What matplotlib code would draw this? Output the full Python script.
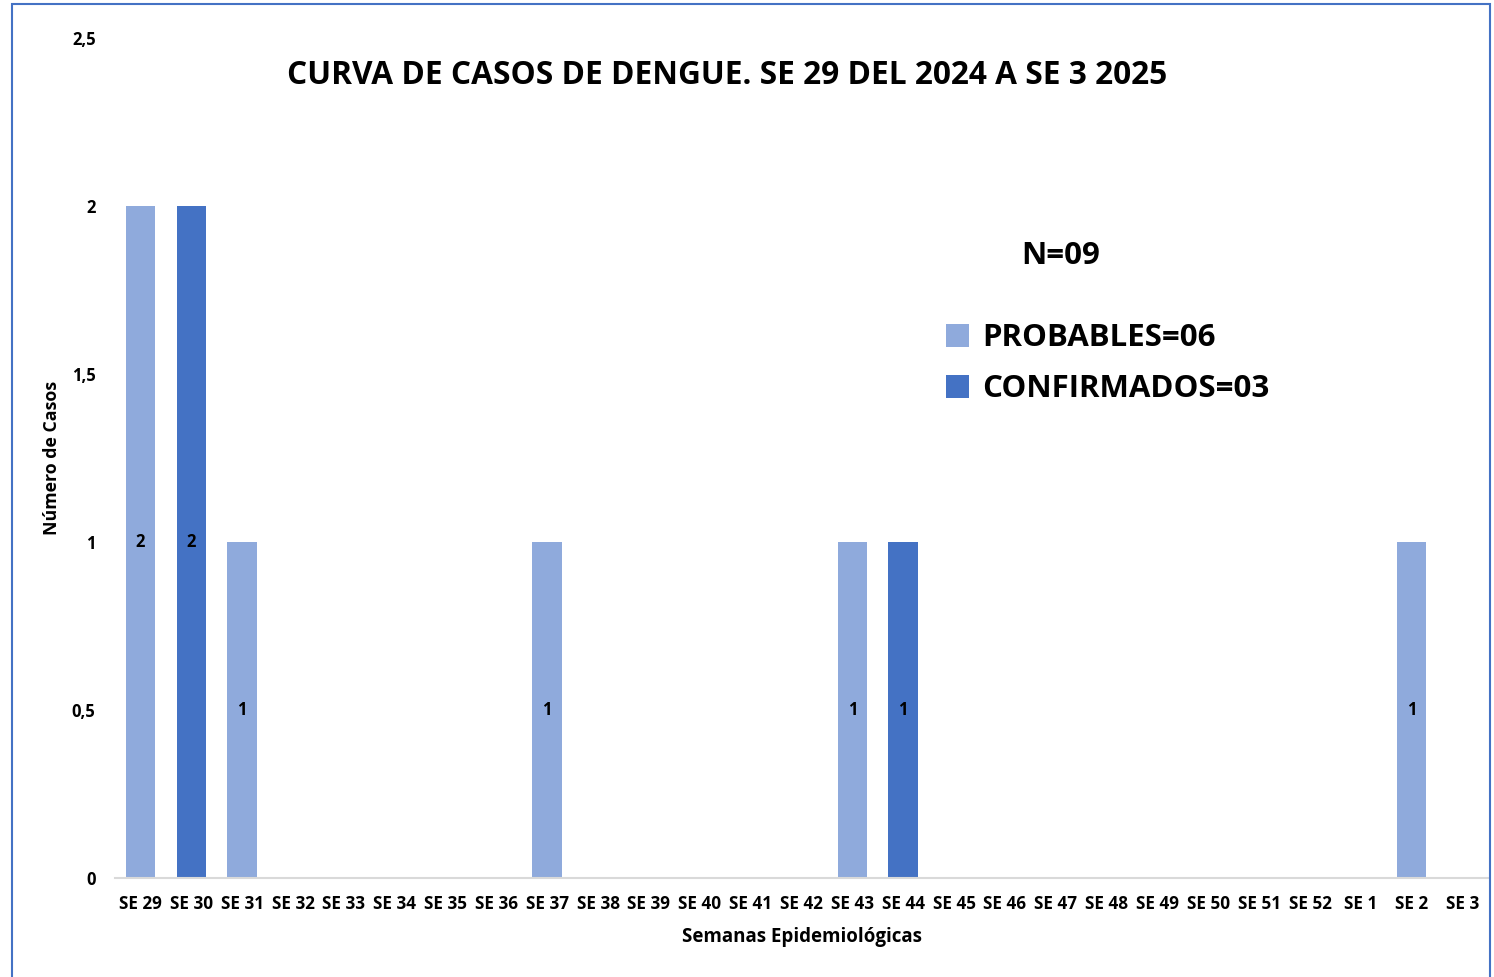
import matplotlib.pyplot as plt
import numpy as np
from matplotlib.patches import Rectangle

# Semanas epidemiológicas SE 29 (2024) a SE 3 (2025)
semanas = ["SE %d" % s for s in range(29, 53)] + ["SE 1", "SE 2", "SE 3"]
probables = [2, 0, 1, 0, 0, 0, 0, 0, 1, 0, 0, 0, 0, 0, 1, 0, 0, 0, 0, 0, 0, 0, 0, 0, 0, 1, 0]
confirmados = [0, 2, 0, 0, 0, 0, 0, 0, 0, 0, 0, 0, 0, 0, 0, 1, 0, 0, 0, 0, 0, 0, 0, 0, 0, 0, 0]
yticks = [0, 0.5, 1, 1.5, 2, 2.5]
ytick_labels = ["0", "0,5", "1", "1,5", "2", "2,5"]

col_prob = "#8faadc"
col_conf = "#4472c4"

plt.rcParams['font.family'] = ['Open Sans', 'DejaVu Sans']

fig = plt.figure(figsize=(14.94, 9.77), dpi=100)
W, H = 1494, 977
ax = fig.add_axes([115 / W, 1 - 878 / H, (1488 - 115) / W, (878 - 38) / H])

x = np.arange(len(semanas))
b1 = ax.bar(x, probables, width=0.58, color=col_prob, label="PROBABLES=06")
b2 = ax.bar(x, confirmados, width=0.58, bottom=probables, color=col_conf, label="CONFIRMADOS=03")

# Etiquetas de datos (solo valores > 0)
ax.bar_label(b1, labels=[str(v) if v > 0 else "" for v in probables],
             label_type='center', fontsize=12, fontweight='bold')
ax.bar_label(b2, labels=[str(v) if v > 0 else "" for v in confirmados],
             label_type='center', fontsize=12, fontweight='bold')

ax.set_xlim(-0.5, len(semanas) - 0.5)
ax.set_ylim(0, 2.5)
ax.set_xticks(x)
ax.set_xticklabels(semanas, fontsize=12.3, fontweight='bold')
ax.set_yticks(yticks)
ax.set_yticklabels(ytick_labels, fontsize=12, fontweight='bold')
ax.tick_params(axis='x', length=0, pad=12)
ax.tick_params(axis='y', length=0, pad=14)

for s in ['top', 'right', 'left']:
    ax.spines[s].set_visible(False)
ax.spines['bottom'].set_color('#d9d9d9')
ax.spines['bottom'].set_linewidth(1.5)

ax.set_xlabel("Semanas Epidemiológicas", fontsize=13.5, fontweight='bold', labelpad=10)
ax.set_ylabel("Número de Casos", fontsize=12.8, fontweight='bold', labelpad=8)

fig.text(727 / W, 1 - 75 / H, "CURVA DE CASOS DE DENGUE. SE 29 DEL 2024 A SE 3 2025",
         ha='center', va='center', fontsize=22.8, fontweight='bold')
fig.text(1061 / W, 1 - 256 / H, "N=09", ha='center', va='center',
         fontsize=22.5, fontweight='bold')

leg = ax.legend(loc='upper left', bbox_to_anchor=((946 - 115) / (1488 - 115), (878 - 323) / (878 - 38)),
                frameon=False, prop={'weight': 'bold', 'size': 22.5},
                borderpad=0, borderaxespad=0,
                handlelength=0.75, handleheight=0.75, handletextpad=0.42, labelspacing=0.68)

# Borde exterior del gráfico
fig.patches.append(Rectangle((12 / W, -0.01), (1490 - 12) / W, 1 - 4 / H + 0.01,
                             transform=fig.transFigure, fill=False,
                             edgecolor=col_conf, linewidth=1.5))

fig.savefig("out.png", dpi=100)
